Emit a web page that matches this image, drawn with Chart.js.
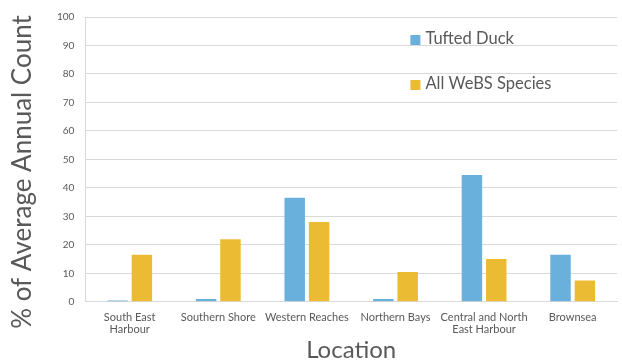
<!DOCTYPE html>
<html>
<head>
<meta charset="utf-8">
<script src="https://cdn.jsdelivr.net/npm/chart.js@4"></script>
<style>
  html, body { margin: 0; padding: 0; background: #fff; }
  #wrap { width: 622px; height: 362px; }
</style>
</head>
<body>
<div id="wrap"><canvas id="chart" width="622" height="362"></canvas></div>
<script>
// Categories and values
const locations = [
  ['South East', 'Harbour'],
  'Southern Shore',
  'Western Reaches',
  'Northern Bays',
  ['Central and North', 'East Harbour'],
  'Brownsea',
];
const tuftedDuck = [0.5, 1, 36.5, 1, 44.5, 16.5];
const allWebs = [16.5, 22, 28, 10.5, 15, 7.5];
const yTicks = [0, 10, 20, 30, 40, 50, 60, 70, 80, 90, 100];
const yTitle = '% of Average Annual Count';

const textColor = '#595959';
const fontFamily = 'Lato, "Open Sans", sans-serif';

// Legend drawn inside the plot area, upper right
const insideLegend = {
  id: 'insideLegend',
  afterDraw(chart) {
    const { ctx, chartArea } = chart;
    const x = chartArea.left + 325;
    const rows = [chartArea.top + 22, chartArea.top + 67];
    ctx.save();
    ctx.font = `16.5px ${fontFamily}`;
    ctx.textBaseline = 'middle';
    chart.data.datasets.forEach((ds, i) => {
      ctx.fillStyle = ds.backgroundColor;
      ctx.fillRect(x, rows[i] - 4, 10, 10);
      ctx.fillStyle = textColor;
      ctx.fillText(ds.label, x + 15, rows[i]);
    });
    ctx.restore();
  },
};

// Y title drawn a little lower than the plot centre, as in the original
const yTitleLabel = {
  id: 'yTitleLabel',
  afterDraw(chart) {
    const { ctx } = chart;
    ctx.save();
    ctx.translate(23, 172);
    ctx.rotate(-Math.PI / 2);
    ctx.font = `26px ${fontFamily}`;
    ctx.fillStyle = textColor;
    ctx.textAlign = 'center';
    ctx.textBaseline = 'middle';
    ctx.fillText(yTitle, 0, 0);
    ctx.restore();
  },
};

new Chart(document.getElementById('chart'), {
  type: 'bar',
  data: {
    labels: locations,
    datasets: [
      {
        label: 'Tufted Duck',
        data: tuftedDuck,
        backgroundColor: '#6ab0dc',
        barPercentage: 0.84,
        categoryPercentage: 0.55,
      },
      {
        label: 'All WeBS Species',
        data: allWebs,
        backgroundColor: '#ebbc33',
        barPercentage: 0.84,
        categoryPercentage: 0.55,
      },
    ],
  },
  options: {
    responsive: false,
    animation: false,
    layout: { padding: { top: 10, right: 5, left: 0, bottom: 0 } },
    plugins: {
      legend: { display: false },
      tooltip: { enabled: false },
    },
    scales: {
      x: {
        grid: { display: false },
        border: { color: '#d9d9d9', width: 1 },
        ticks: {
          color: textColor,
          font: { family: fontFamily, size: 11, lineHeight: 1.1 },
          maxRotation: 0,
          autoSkip: false,
          padding: 2,
        },
        title: {
          display: true,
          text: 'Location',
          color: textColor,
          font: { family: fontFamily, size: 24, lineHeight: 1.0 },
          padding: { top: 0, bottom: 0 },
        },
      },
      y: {
        min: 0,
        max: 100,
        afterBuildTicks: (axis) => {
          axis.ticks = yTicks.map((v) => ({ value: v }));
        },
        grid: { color: '#d9d9d9', lineWidth: 1, drawTicks: false },
        border: { color: '#d9d9d9', width: 1 },
        ticks: {
          color: textColor,
          font: { family: fontFamily, size: 10 },
          padding: 11,
        },
        // space is kept here, the text itself is drawn by yTitleLabel
        title: {
          display: true,
          text: yTitle,
          color: 'rgba(0,0,0,0)',
          font: { family: fontFamily, size: 26, lineHeight: 1.0 },
          padding: { top: 0, bottom: 20 },
        },
      },
    },
  },
  plugins: [insideLegend, yTitleLabel],
});
</script>
</body>
</html>
